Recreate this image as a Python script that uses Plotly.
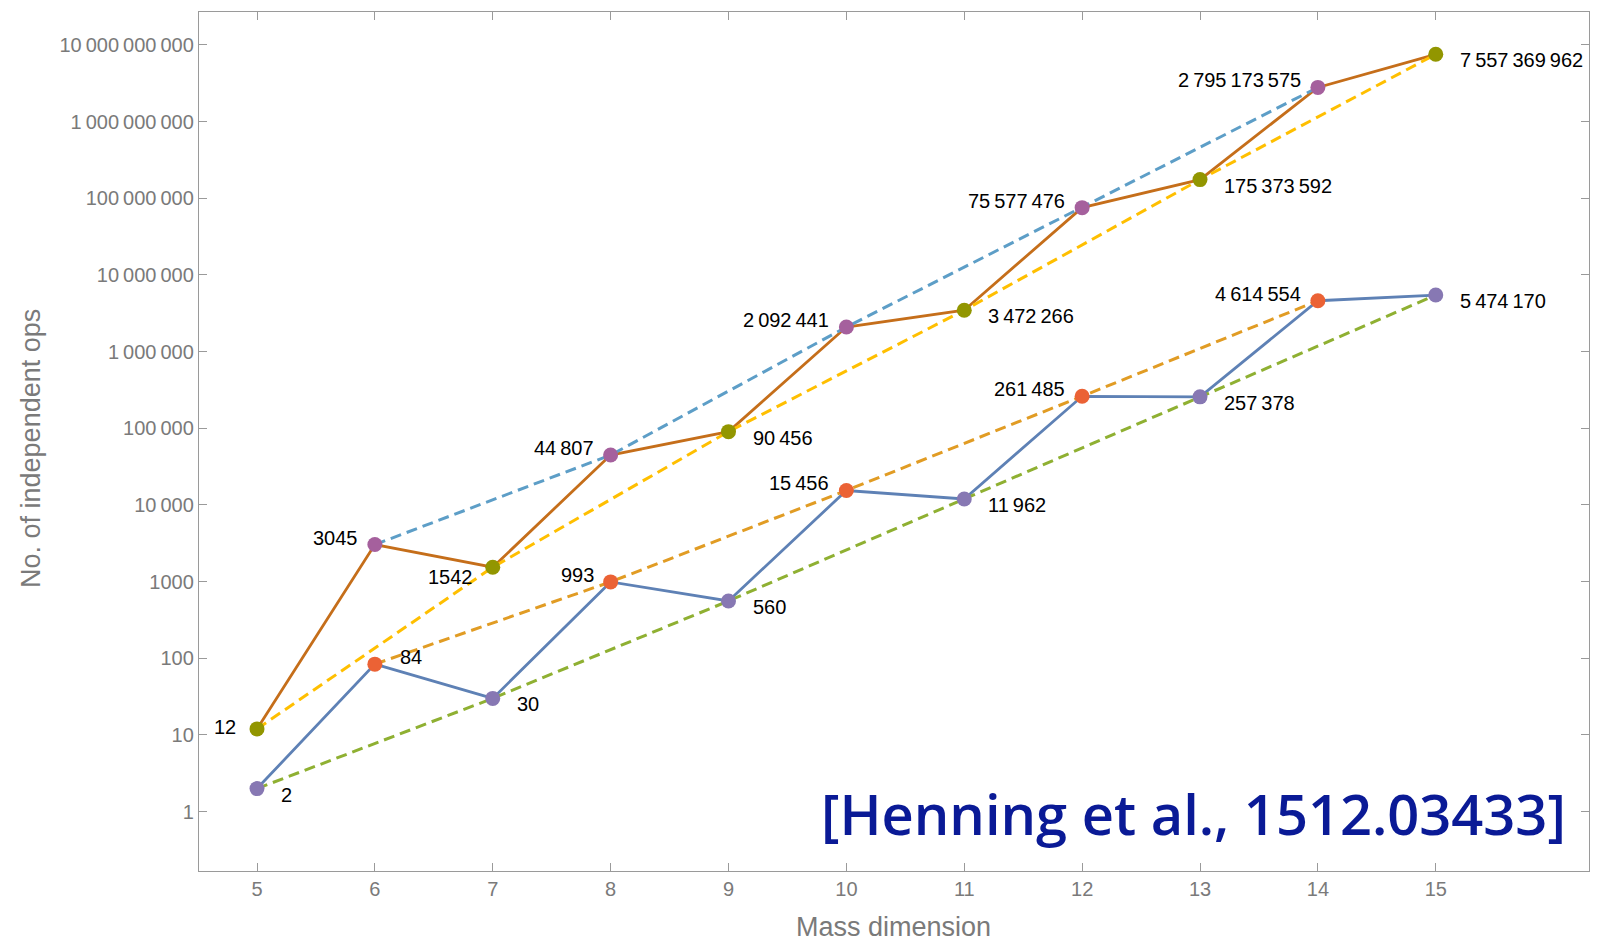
import plotly.graph_objects as go
import numpy as np

# ---------------- data ----------------
dims = [5, 6, 7, 8, 9, 10, 11, 12, 13, 14, 15]
upper_vals = [12, 3045, 1542, 44807, 90456, 2092441, 3472266, 75577476,
              175373592, 2795173575, 7557369962]
lower_vals = [2, 84, 30, 993, 560, 15456, 11962, 261485, 257378,
              4614554, 5474170]
upper_label_pos = ["l", "ul", "ll", "ul", "lr", "ul", "lr", "ul", "lr", "ul", "lr"]
lower_label_pos = ["lr", "ur", "lr", "ul", "lr", "ul", "lr", "ul", "lr", "ul", "lr"]

ytick_vals = [1, 10, 100, 1000, 10**4, 10**5, 10**6, 10**7, 10**8, 10**9, 10**10]
ytick_text = ["1", "10", "100", "1000", "10\u2009000", "100\u2009000",
              "1\u2009000\u2009000", "10\u2009000\u2009000", "100\u2009000\u2009000",
              "1\u2009000\u2009000\u2009000", "10\u2009000\u2009000\u2009000"]
xtick_vals = [5, 6, 7, 8, 9, 10, 11, 12, 13, 14, 15]

# Mathematica-like colours
C_UP_LINE = "#C56E1A"
C_LO_LINE = "#5E81B5"
C_UP_EVEN_DASH = "#5D9EC7"
C_UP_ODD_DASH = "#FFBF00"
C_LO_EVEN_DASH = "#E19C24"
C_LO_ODD_DASH = "#8FB032"
C_UP_EVEN_MK = "#A5609D"
C_UP_ODD_MK = "#929600"
C_LO_EVEN_MK = "#EB6235"
C_LO_ODD_MK = "#8778B3"

FONT = "Liberation Sans, Arial, Helvetica, sans-serif"
GRAY = "#7a7a7a"


def fmt(v):
    if v < 10000:
        return str(v)
    s = f"{v:,}"
    return s.replace(",", "\u2009")


def sub(lst, parity):
    xs = [d for d in dims if d % 2 == parity]
    ys = [lst[dims.index(d)] for d in xs]
    return xs, ys


fig = go.Figure()

# solid lines
fig.add_trace(go.Scatter(x=dims, y=upper_vals, mode="lines",
                         line=dict(color=C_UP_LINE, width=2.8), hoverinfo="skip"))
fig.add_trace(go.Scatter(x=dims, y=lower_vals, mode="lines",
                         line=dict(color=C_LO_LINE, width=2.8), hoverinfo="skip"))

# dashed lines
dash = "11px,6px"
for vals, parity, col in [(upper_vals, 0, C_UP_EVEN_DASH), (upper_vals, 1, C_UP_ODD_DASH),
                          (lower_vals, 0, C_LO_EVEN_DASH), (lower_vals, 1, C_LO_ODD_DASH)]:
    xs, ys = sub(vals, parity)
    fig.add_trace(go.Scatter(x=xs, y=ys, mode="lines",
                             line=dict(color=col, width=3, dash=dash), hoverinfo="skip"))

# markers
for vals, parity, col in [(upper_vals, 0, C_UP_EVEN_MK), (upper_vals, 1, C_UP_ODD_MK),
                          (lower_vals, 0, C_LO_EVEN_MK), (lower_vals, 1, C_LO_ODD_MK)]:
    xs, ys = sub(vals, parity)
    fig.add_trace(go.Scatter(x=xs, y=ys, mode="markers",
                             marker=dict(color=col, size=15, line=dict(width=0)),
                             hoverinfo="skip"))

# data labels
pos_map = {
    "ul": dict(xanchor="right", xshift=-15, yshift=7),
    "ur": dict(xanchor="left", xshift=23, yshift=7),
    "lr": dict(xanchor="left", xshift=22, yshift=-6),
    "ll": dict(xanchor="right", xshift=-18, yshift=-10),
    "l": dict(xanchor="right", xshift=-19, yshift=2),
}
annotations = []
for vals, poss in [(upper_vals, upper_label_pos), (lower_vals, lower_label_pos)]:
    for d, v, p in zip(dims, vals, poss):
        annotations.append(dict(x=d, y=np.log10(v), xref="x", yref="y",
                                text=fmt(v), showarrow=False, yanchor="middle",
                                font=dict(family=FONT, size=20, color="black"),
                                **pos_map[p]))

# axis titles
annotations.append(dict(xref="paper", yref="paper", x=-0.1209, y=0.4924,
                        text="No. of independent ops", textangle=-90, showarrow=False,
                        xanchor="center", yanchor="middle",
                        font=dict(family=FONT, size=27, color=GRAY)))
annotations.append(dict(xref="paper", yref="paper", x=0.4993, y=-0.0652,
                        text="Mass dimension", showarrow=False,
                        xanchor="center", yanchor="middle",
                        font=dict(family=FONT, size=27, color=GRAY)))
# citation
annotations.append(dict(xref="paper", yref="paper", x=0.9849, y=0.0670,
                        text="[Henning et al., 1512.03433]", showarrow=False,
                        xanchor="right", yanchor="middle",
                        font=dict(family="Open Sans, Lato, sans-serif", size=56,
                                  weight=600, color="#0A1A96")))

axis_common = dict(showline=True, linecolor="#9a9a9a", linewidth=1.3, mirror="ticks",
                   ticks="inside", ticklen=8, tickcolor="#9a9a9a", tickwidth=1.3,
                   showgrid=False, zeroline=False,
                   tickfont=dict(family=FONT, size=20, color=GRAY))

# page body has an 8px margin, so the figure is shrunk by 8px and margins reduced
fig.update_layout(
    width=1597, height=933,
    margin=dict(l=191, r=16, t=4, b=70, autoexpand=False),
    paper_bgcolor="white", plot_bgcolor="white",
    showlegend=False,
    xaxis=dict(range=[4.508, 16.30], tickvals=xtick_vals, **axis_common),
    yaxis=dict(type="log", range=[-0.774, 10.43], tickvals=ytick_vals,
               ticktext=ytick_text, **axis_common),
    annotations=annotations,
)

fig.write_html("out.html")
